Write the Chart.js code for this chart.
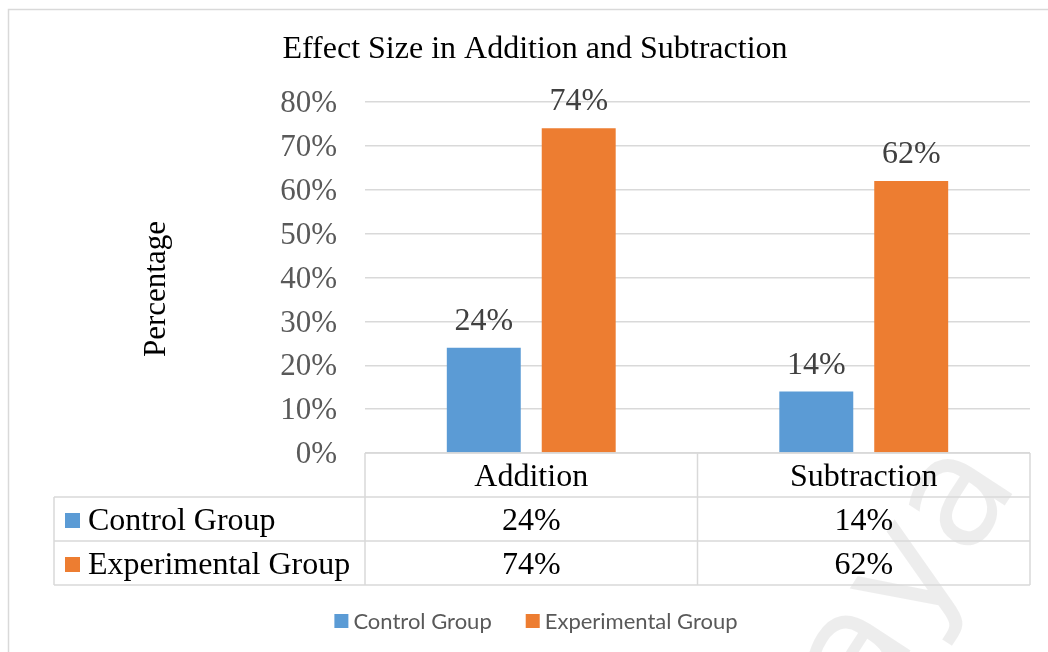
<!DOCTYPE html>
<html>
<head>
<meta charset="utf-8">
<title>Effect Size in Addition and Subtraction</title>
<script src="https://cdn.jsdelivr.net/npm/chart.js@4.4.1/dist/chart.umd.min.js"></script>
<style>
	html, body { margin: 0; padding: 0; background: #ffffff; }
	#wrap { width: 1048px; height: 652px; position: relative; }
</style>
</head>
<body>
<div id="wrap"><canvas id="chart" width="1048" height="652"></canvas></div>
<script>
	'use strict';

	// --- Data ---

	const categories = ['Addition', 'Subtraction'];
	const seriesNames = ['Control Group', 'Experimental Group'];
	const controlValues = [24, 14];
	const experimentalValues = [74, 62];
	const seriesColors = ['#5B9BD5', '#ED7D31'];
	const yMax = 80;
	const yStep = 10;

	const SERIF = "'Liberation Serif', 'Times New Roman', serif";
	const SANS = "Lato, 'Open Sans', sans-serif";
	const LINE = '#d9d9d9';

	// --- Plugins ---

	// light diagonal watermark behind everything
	const watermark = {
		id: 'watermark',
		beforeDraw(chart) {
			const ctx = chart.ctx;
			ctx.save();
			ctx.translate(1020, 482);
			ctx.rotate(-57 * Math.PI / 180);
			ctx.font = '155px "DejaVu Sans", sans-serif';
			ctx.fillStyle = 'rgba(0, 0, 0, 0.07)';
			ctx.textAlign = 'right';
			ctx.textBaseline = 'alphabetic';
			ctx.fillText('Malaya', 0, 0);
			ctx.restore();

			// outer frame
			ctx.save();
			ctx.strokeStyle = LINE;
			ctx.lineWidth = 1.5;
			ctx.strokeRect(8.5, 9.5, 1200, 1000);
			ctx.restore();
		}
	};

	// value labels over each bar
	const barLabels = {
		id: 'barLabels',
		afterDatasetsDraw(chart) {
			const ctx = chart.ctx;
			ctx.save();
			ctx.font = '32px ' + SERIF;
			ctx.fillStyle = '#404040';
			ctx.textAlign = 'center';
			ctx.textBaseline = 'alphabetic';
			chart.data.datasets.forEach((ds, di) => {
				chart.getDatasetMeta(di).data.forEach((bar, i) => {
					ctx.fillText(ds.data[i] + '%', bar.x, bar.y - 18);
				});
			});
			ctx.restore();
		}
	};

	// data table under the plot plus the bottom legend and y title
	const dataTable = {
		id: 'dataTable',
		afterDraw(chart) {
			const ctx = chart.ctx;
			const xs = chart.scales.x;
			const area = chart.chartArea;
			const rowH = 44;
			const tableLeft = 54;
			const top = area.bottom;
			const half = (area.right - area.left) / categories.length / 2;
			const edges = [area.left];
			categories.forEach((c, i) => edges.push(xs.getPixelForValue(i) + half));
			const rowsBottom = top + rowH * (seriesNames.length + 1);

			ctx.save();
			ctx.strokeStyle = LINE;
			ctx.lineWidth = 1.5;
			ctx.beginPath();
			ctx.moveTo(area.left, top);
			ctx.lineTo(area.right, top);
			for (let r = 1; r <= seriesNames.length + 1; r++) {
				ctx.moveTo(tableLeft, top + rowH * r);
				ctx.lineTo(area.right, top + rowH * r);
			}
			edges.forEach(x => {
				ctx.moveTo(x, top);
				ctx.lineTo(x, rowsBottom);
			});
			ctx.moveTo(tableLeft, top + rowH);
			ctx.lineTo(tableLeft, rowsBottom);
			ctx.stroke();

			ctx.font = '32px ' + SERIF;
			ctx.fillStyle = '#000000';
			ctx.textBaseline = 'middle';
			ctx.textAlign = 'center';
			categories.forEach((c, i) => {
				ctx.fillText(c, xs.getPixelForValue(i), top + rowH / 2 + 3);
			});

			const rows = [controlValues, experimentalValues];
			rows.forEach((vals, r) => {
				const cy = top + rowH * (r + 1.5) + 2;
				ctx.fillStyle = seriesColors[r];
				ctx.fillRect(65, cy - 8, 15, 15);
				ctx.fillStyle = '#000000';
				ctx.textAlign = 'left';
				ctx.fillText(seriesNames[r], 88, cy + 1);
				ctx.textAlign = 'center';
				vals.forEach((v, i) => {
					ctx.fillText(v + '%', xs.getPixelForValue(i), cy + 1);
				});
			});

			// y axis title
			ctx.save();
			ctx.translate(157, 289);
			ctx.rotate(-Math.PI / 2);
			ctx.font = '31px ' + SERIF;
			ctx.textAlign = 'center';
			ctx.fillText('Percentage', 0, 0);
			ctx.restore();

			// legend
			ctx.font = '22px ' + SANS;
			ctx.textAlign = 'left';
			const box = 14, gap = 5, between = 34;
			const widths = seriesNames.map(n => ctx.measureText(n).width);
			const total = widths.reduce((s, w) => s + box + gap + w, 0) + between;
			let lx = 536 - total / 2;
			const ly = 621;
			seriesNames.forEach((n, i) => {
				ctx.fillStyle = seriesColors[i];
				ctx.fillRect(lx, ly - box / 2, box, box);
				ctx.fillStyle = '#595959';
				ctx.fillText(n, lx + box + gap, ly + 1);
				lx += box + gap + widths[i] + between;
			});
			ctx.restore();
		}
	};

	// --- Chart ---

	new Chart(document.getElementById('chart'), {
		type: 'bar',
		data: {
			labels: categories,
			datasets: [
				{ label: seriesNames[0], data: controlValues, backgroundColor: seriesColors[0] },
				{ label: seriesNames[1], data: experimentalValues, backgroundColor: seriesColors[1] },
			],
		},
		options: {
			responsive: false,
			animation: false,
			events: [],
			datasets: {
				bar: { categoryPercentage: 0.571, barPercentage: 0.779 },
			},
			layout: {
				padding: { left: 40, right: 18, top: 0, bottom: 199 },
			},
			plugins: {
				legend: { display: false },
				tooltip: { enabled: false },
				title: {
					display: true,
					text: 'Effect Size in Addition and Subtraction',
					color: '#000000',
					font: { family: SERIF, size: 32, weight: 'normal' },
					padding: { top: 30, bottom: 33.6 },
				},
			},
			scales: {
				x: { display: false },
				y: {
					min: 0,
					max: yMax,
					afterFit(scale) { scale.width = 325; },
					border: { display: false },
					grid: { color: LINE, lineWidth: 1.5, drawTicks: false },
					ticks: {
						stepSize: yStep,
						padding: 28,
						labelOffset: 2,
						color: '#595959',
						font: { family: SERIF, size: 31 },
						callback: v => v + '%',
					},
				},
			},
		},
		plugins: [watermark, barLabels, dataTable],
	});
</script>
</body>
</html>
